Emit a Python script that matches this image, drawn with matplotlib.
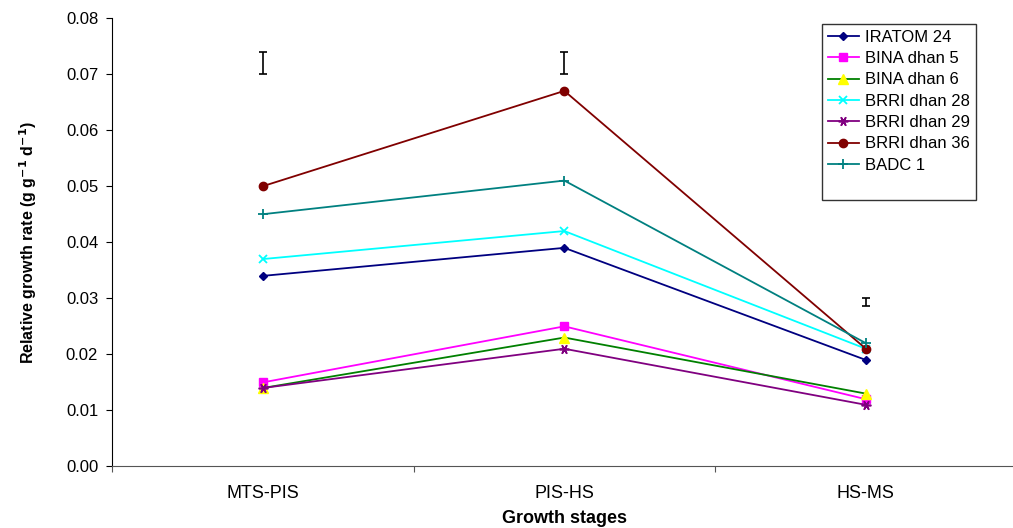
import matplotlib
matplotlib.use("Agg")
import matplotlib.pyplot as plt
from matplotlib.lines import Line2D
from matplotlib.ticker import FixedLocator, FormatStrFormatter

plt.rcParams['font.family'] = ['Liberation Sans', 'DejaVu Sans']

stages = ["MTS-PIS", "PIS-HS", "HS-MS"]
iratom24 = [0.034, 0.039, 0.019]
bina5 = [0.015, 0.025, 0.012]
bina6 = [0.014, 0.023, 0.013]
brri28 = [0.037, 0.042, 0.021]
brri29 = [0.014, 0.021, 0.011]
brri36 = [0.050, 0.067, 0.021]
badc1 = [0.045, 0.051, 0.022]
err_center = [0.072, 0.072, 0.0293]
err_half = [0.002, 0.002, 0.0007]

series = [
    ("IRATOM 24", iratom24, dict(color="#000080", marker="D", ms=4.5, mfc="#000080", mec="#000080")),
    ("BINA dhan 5", bina5, dict(color="#FF00FF", marker="s", ms=6, mfc="#FF00FF", mec="#FF00FF")),
    ("BINA dhan 6", bina6, dict(color="#008000", marker="^", ms=6.5, mfc="#FFFF00", mec="#FFFF00")),
    ("BRRI dhan 28", brri28, dict(color="#00FFFF", marker="x", ms=6, mfc="#00FFFF", mec="#00FFFF", mew=1.3)),
    ("BRRI dhan 29", brri29, dict(color="#800080", marker=(6, 2, 90), ms=7, mfc="#800080", mec="#800080", mew=1.2)),
    ("BRRI dhan 36", brri36, dict(color="#800000", marker="o", ms=6, mfc="#800000", mec="#800000")),
    ("BADC 1", badc1, dict(color="#008080", marker="+", ms=7, mfc="#008080", mec="#008080", mew=1.3)),
]

fig = plt.figure(figsize=(10.13, 5.28), dpi=100)
ax = fig.add_axes([0.1106, 0.1165, 0.893, 0.8494])

xs = [0.5, 1.5, 2.5]
handles = []
for name, vals, st in series:
    h, = ax.plot(xs, vals, lw=1.3, label=name, **st)
    handles.append(h)

ax.errorbar(xs, err_center, yerr=err_half, fmt="none", ecolor="black",
            elinewidth=1.2, capsize=3, capthick=1.2)

ax.set_xlim(0, 3)
ax.set_ylim(0, 0.08)
ax.set_yticks([i * 0.01 for i in range(9)])
ax.yaxis.set_major_formatter(FormatStrFormatter("%.2f"))
ax.xaxis.set_major_locator(FixedLocator([0, 1, 2, 3]))
ax.set_xticklabels([])
ax.xaxis.set_minor_locator(FixedLocator(xs))
ax.set_xticklabels(stages, minor=True, fontsize=13)
ax.tick_params(axis="x", which="minor", length=0, pad=13)
ax.tick_params(axis="x", which="major", length=4, direction="out", color="#555555")
ax.tick_params(axis="y", length=4, direction="out", labelsize=12, pad=6)

for s in ("top", "right"):
    ax.spines[s].set_visible(False)
ax.spines["bottom"].set_color("#555555")
ax.spines["left"].set_color("black")

ax.set_xlabel("Growth stages", fontsize=13, fontweight="bold", labelpad=6)
ax.set_ylabel("Relative growth rate (g g$^{\\mathbf{-1}}$ d$^{\\mathbf{-1}}$)",
              fontsize=11.5, fontweight="bold", labelpad=19)

blank = Line2D([], [], color="none")
leg = ax.legend(handles + [blank], [h.get_label() for h in handles] + [" "],
                loc="upper right", bbox_to_anchor=(0.955, 0.987),
                fontsize=12, frameon=True, fancybox=False, edgecolor="black",
                handlelength=1.9, labelspacing=0.38, borderpad=0.35,
                handletextpad=0.35, borderaxespad=0.0)
leg.get_frame().set_linewidth(1.0)

fig.savefig("out.png", dpi=100)
